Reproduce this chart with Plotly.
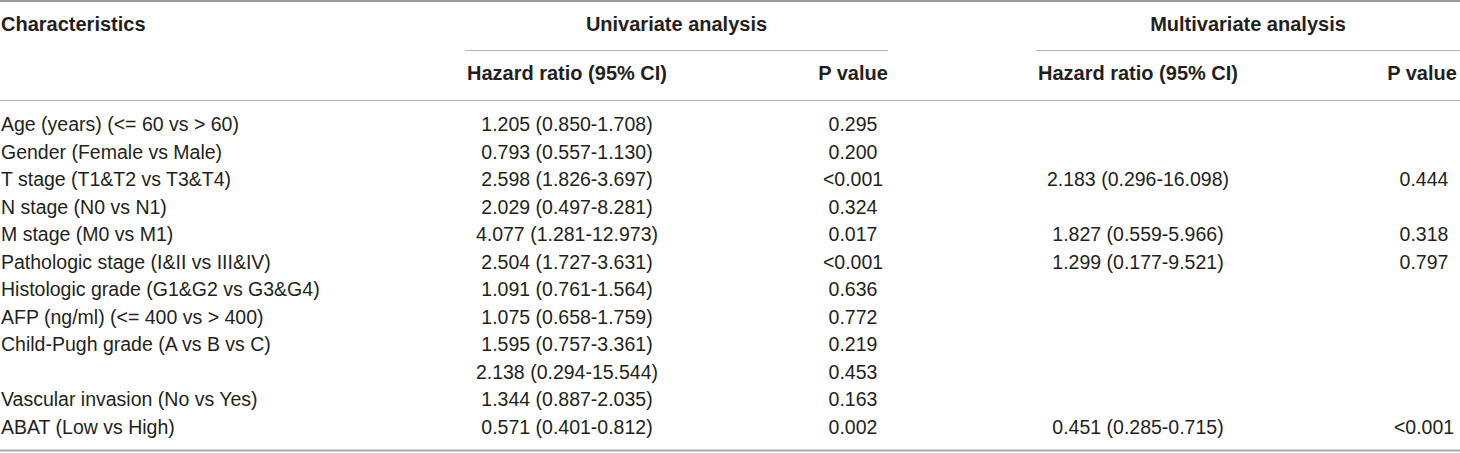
import plotly.graph_objects as go

# ---------------- data ----------------
characteristics = [
    "Age (years) (<= 60 vs > 60)",
    "Gender (Female vs Male)",
    "T stage (T1&T2 vs T3&T4)",
    "N stage (N0 vs N1)",
    "M stage (M0 vs M1)",
    "Pathologic stage (I&II vs III&IV)",
    "Histologic grade (G1&G2 vs G3&G4)",
    "AFP (ng/ml) (<= 400 vs > 400)",
    "Child-Pugh grade (A vs B vs C)",
    "",
    "Vascular invasion (No vs Yes)",
    "ABAT (Low vs High)",
]
uni_hr = [
    "1.205 (0.850-1.708)", "0.793 (0.557-1.130)", "2.598 (1.826-3.697)",
    "2.029 (0.497-8.281)", "4.077 (1.281-12.973)", "2.504 (1.727-3.631)",
    "1.091 (0.761-1.564)", "1.075 (0.658-1.759)", "1.595 (0.757-3.361)",
    "2.138 (0.294-15.544)", "1.344 (0.887-2.035)", "0.571 (0.401-0.812)",
]
uni_p = ["0.295", "0.200", "<0.001", "0.324", "0.017", "<0.001",
         "0.636", "0.772", "0.219", "0.453", "0.163", "0.002"]
multi_hr = ["", "", "2.183 (0.296-16.098)", "", "1.827 (0.559-5.966)",
            "1.299 (0.177-9.521)", "", "", "", "", "", "0.451 (0.285-0.715)"]
multi_p = ["", "", "0.444", "", "0.318", "0.797", "", "", "", "", "", "<0.001"]

group_headers = ["Univariate analysis", "Multivariate analysis"]
sub_headers = ["Hazard ratio (95% CI)", "P value", "Hazard ratio (95% CI)", "P value"]
first_header = "Characteristics"

# ---------------- layout constants ----------------
W, H = 1460, 453
FONT = "Liberation Sans, Arial, sans-serif"
FS = 19.5
FSH = 20
TXT = "#231f20"
ROW0, ROWH = 126.5, 27.5
X_CHAR = 1
X_UHR, X_UP, X_MHR, X_MP = 567, 853, 1138, 1424
X_UP_H, X_MP_H = 853, 1422
GRP = [(465, 888), (1036, 1460)]
Y_GRP, Y_SUB, Y_LINE1, Y_LINE2 = 26, 75, 50.5, 100.5


def esc(s):
    return s.replace("&", "&amp;").replace("<", "&lt;").replace(">", "&gt;")


rows_y = [ROW0 + ROWH * i for i in range(len(characteristics))]

fig = go.Figure()


def add_col(texts, x, ys, anchor, bold=False):
    fig.add_trace(go.Scatter(
        x=[x] * len(texts), y=ys, mode="text",
        text=[("<b>%s</b>" % esc(t)) if (bold and t) else esc(t) for t in texts],
        textposition=anchor,
        textfont=dict(family=FONT, size=FSH if bold else FS, color=TXT),
        hoverinfo="skip", showlegend=False, cliponaxis=False,
    ))


add_col(characteristics, X_CHAR, rows_y, "middle right")
add_col(uni_hr, X_UHR, rows_y, "middle center")
add_col(uni_p, X_UP, rows_y, "middle center")
add_col(multi_hr, X_MHR, rows_y, "middle center")
add_col(multi_p, X_MP, rows_y, "middle center")

# headers
add_col([first_header], X_CHAR, [Y_GRP], "middle right", bold=True)
for (x0, x1), g in zip(GRP, group_headers):
    add_col([g], (x0 + x1) / 2, [Y_GRP], "middle center", bold=True)
for x, s in zip([X_UHR, X_UP_H, X_MHR, X_MP_H], sub_headers):
    add_col([s], x, [Y_SUB], "middle center", bold=True)

# rules
fig.add_shape(type="line", x0=0, x1=W, y0=1, y1=1,
              line=dict(color="#9a9a9a", width=2), layer="below")
for x0, x1 in GRP:
    fig.add_shape(type="line", x0=x0, x1=x1, y0=Y_LINE1, y1=Y_LINE1,
                  line=dict(color="#b4b4b4", width=1.2), layer="below")
fig.add_shape(type="line", x0=0, x1=W, y0=Y_LINE2, y1=Y_LINE2,
              line=dict(color="#b4b4b4", width=1.2), layer="below")
fig.add_shape(type="line", x0=0, x1=W, y0=450.5, y1=450.5,
              line=dict(color="#a8a8a8", width=2), layer="below")

fig.update_layout(
    width=W, height=H,
    margin=dict(l=0, r=0, t=0, b=0),
    paper_bgcolor="white", plot_bgcolor="white",
    xaxis=dict(range=[0, W], visible=False, fixedrange=True),
    yaxis=dict(range=[H, 0], visible=False, fixedrange=True),
    showlegend=False,
)

fig.write_html(
    "out.html",
    config={"displayModeBar": False},
    post_script="document.body.style.margin='0';document.body.style.overflow='hidden';",
)
